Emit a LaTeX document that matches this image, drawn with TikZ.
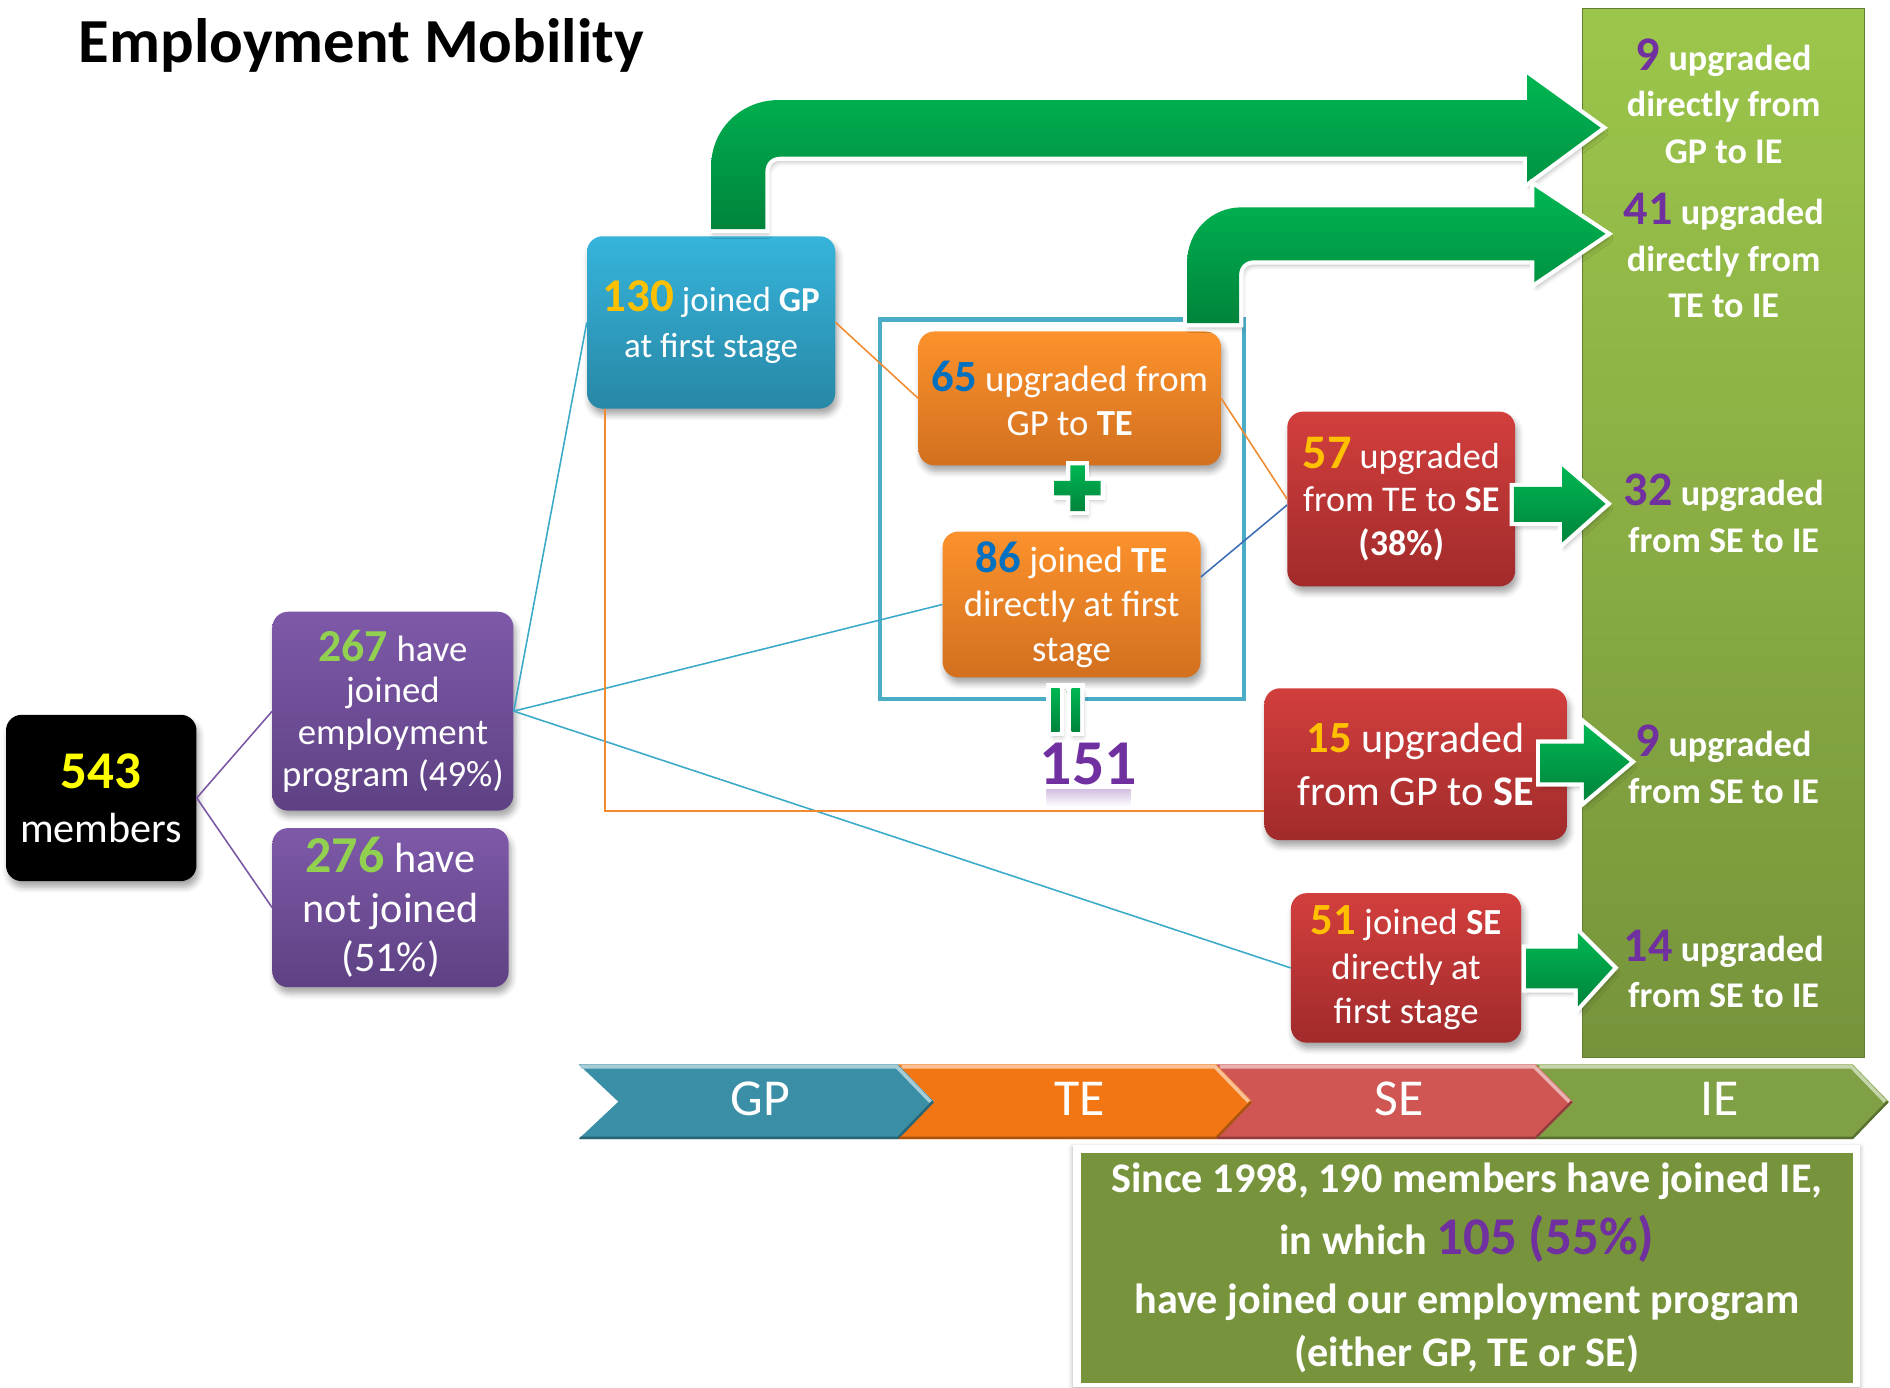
\documentclass[tikz,border=0pt]{standalone}
\usepackage{fontspec}
\setmainfont{Carlito}
\usetikzlibrary{shadows.blur,calc}
\definecolor{cYel}{HTML}{FFFF00}
\definecolor{cGold}{HTML}{FFC000}
\definecolor{cBlue}{HTML}{0070C0}
\definecolor{cLime}{HTML}{92D050}
\definecolor{cPur}{HTML}{7030A0}
\definecolor{purT}{HTML}{7E59A9}
\definecolor{purB}{HTML}{5E4183}
\definecolor{tealT}{HTML}{36B4DB}
\definecolor{tealB}{HTML}{2887A6}
\definecolor{oraT}{HTML}{FC922C}
\definecolor{oraB}{HTML}{D2701F}
\definecolor{redT}{HTML}{D23F3D}
\definecolor{redB}{HTML}{A12A2B}
\definecolor{ieT}{HTML}{9CC64B}
\definecolor{ieB}{HTML}{76933B}
\definecolor{olive}{HTML}{77933C}
\definecolor{arrT}{HTML}{00B652}
\definecolor{arrB}{HTML}{00843C}
\definecolor{chGP}{HTML}{3A8FA7}
\definecolor{chTE}{HTML}{F27613}
\definecolor{chSE}{HTML}{CF5653}
\definecolor{chIE}{HTML}{80A045}
\definecolor{lnTeal}{HTML}{3AAAC8}
\definecolor{lnOra}{HTML}{F28A30}
\definecolor{lnPur}{HTML}{7A56A4}
\definecolor{lnBlue}{HTML}{3D6EB5}
\definecolor{frTeal}{HTML}{4BACC6}
\newcommand\fsz[2]{\fontsize{#1}{#2}\selectfont}
\newcommand\Nb[3]{{\fontsize{#2}{#2}\selectfont\bfseries\color{#1}#3}}
\tikzset{
  box/.style={rounded corners=13pt, inner sep=0pt, align=center, text=white,
    blur shadow={shadow xshift=2pt, shadow yshift=-5pt, shadow blur radius=5pt, shadow opacity=35}},
  pbox/.style={box, top color=purT, bottom color=purB},
  tbox/.style={box, top color=tealT, bottom color=tealB},
  obox/.style={box, top color=oraT, bottom color=oraB},
  rbox/.style={box, top color=redT, bottom color=redB},
  ietxt/.style={text=white, align=center, font=\bfseries\fsz{30}{38.5}, inner sep=0pt},
  garrow/.style={blur shadow={shadow xshift=2pt, shadow yshift=-4pt, shadow blur radius=4pt, shadow opacity=30},
    preaction={draw=white, line width=7pt, line join=miter},
    top color=arrT, bottom color=arrB},
  conn/.style={line width=1.3pt},
  chlabel/.style={text=white, font=\fsz{43}{43}, inner sep=0pt},
}
\begin{document}
\begin{tikzpicture}[x=1pt,y=-1pt]
\useasboundingbox (0,0) rectangle (1568,1151);

% title
\node[anchor=base west, font=\bfseries\fsz{52}{60}] (title) at (62,52) {Employment Mobility};

% IE column
\node[top color=ieT, bottom color=ieB, draw=ieB!85!black, line width=1pt,
  minimum width=234pt, minimum height=870pt, inner sep=0pt] (iecol) at (1430,442) {};

% frame
\node[draw=frTeal, line width=3.5pt, minimum width=302pt, minimum height=315pt, inner sep=0pt] (frame) at (881,422.5) {};

% boxes
\node[box, fill=black, minimum width=158pt, minimum height=138pt, font=\fsz{35}{45}] (b543) at (84,662)
  {\Nb{cYel}{44}{543}\\members};
\node[pbox, minimum width=200pt, minimum height=165pt, font=\fsz{30.5}{34.5}] (b267) at (326,590)
  {\Nb{cLime}{38}{267} have\\joined\\employment\\program (49\%)};
\node[pbox, minimum width=196pt, minimum height=132pt, font=\fsz{35}{41}] (b276) at (324,753)
  {\Nb{cLime}{43}{276} have\\not joined\\(51\%)};
\node[tbox, minimum width=206pt, minimum height=143pt, font=\fsz{29}{38}] (b130) at (590,267.5)
  {\Nb{cGold}{39}{130} joined \textbf{GP}\\at first stage};
\node[obox, minimum width=251pt, minimum height=111pt, font=\fsz{30.5}{36}] (b65) at (887.5,330.5)
  {\Nb{cBlue}{37}{65} upgraded from\\GP to \textbf{TE}};
\node[obox, minimum width=214pt, minimum height=121pt, font=\fsz{30.5}{37}] (b86) at (889,501.5)
  {\Nb{cBlue}{37}{86} joined \textbf{TE}\\directly at first\\stage};
\node[rbox, minimum width=189pt, minimum height=145pt, font=\fsz{30}{36}] (b57) at (1162.5,414)
  {\Nb{cGold}{40}{57} upgraded\\from TE to \textbf{SE}\\\textbf{(38\%)}};
\node[rbox, minimum width=251pt, minimum height=126pt, font=\fsz{35}{44}] (b15) at (1174.5,634)
  {\Nb{cGold}{37}{15} upgraded\\from GP to \textbf{SE}};
\node[rbox, minimum width=191pt, minimum height=124pt, font=\fsz{30.5}{37}] (b51) at (1166.5,803)
  {\Nb{cGold}{37}{51} joined \textbf{SE}\\directly at\\first stage};

% connectors
\draw[conn, lnPur] (b543.east) -- (b267.west);
\draw[conn, lnPur] (b543.east) -- (b276.west);
\draw[conn, lnTeal] (b267.east) -- (b130.west);
\draw[conn, lnTeal] (b267.east) -- (b86.west);
\draw[conn, lnTeal] (b267.east) -- (b51.west);
\draw[conn, lnOra] (b130.east) -- (b65.west);
\draw[conn, lnOra] (b65.east) -- (b57.west);
\draw[conn, lnBlue] (b86.12) -- (b57.183);
\draw[conn, lnOra] ([xshift=15pt]b130.south west) |- ([yshift=-39pt]b15.west);

% big bent arrows
\path[garrow] (590,190) -- (590,138) .. controls (590,107) and (615,83) .. (646,83) -- (1267,83) -- (1267,62)
  -- (1328,106) -- (1267,151) -- (1267,130) -- (647,130) .. controls (640,130) and (635,135) .. (635,142)
  -- (635,190) -- cycle;
\path[garrow] (985,268) -- (985,217) .. controls (985,192) and (1005,172) .. (1030,172) -- (1273,172) -- (1273,155)
  -- (1332,194) -- (1273,234) -- (1273,216) -- (1040,216) .. controls (1033,216) and (1028,221) .. (1028,228)
  -- (1028,268) -- cycle;

% small arrows
\path[garrow] (1256,404) -- (1296,404) -- (1296,387) -- (1332,418) -- (1296,450) -- (1296,433) -- (1256,433) -- cycle;
\path[garrow] (1278,617) -- (1314,617) -- (1314,601) -- (1352,632) -- (1314,664) -- (1314,649) -- (1278,649) -- cycle;
\path[garrow] (1266,787) -- (1309,787) -- (1309,774) -- (1338,803) -- (1309,835) -- (1309,820) -- (1266,820) -- cycle;

% plus and equals
\path[garrow] (888,386) -- (900,386) -- (900,399) -- (913,399) -- (913,411) -- (900,411) -- (900,424) -- (888,424)
  -- (888,411) -- (875,411) -- (875,399) -- (888,399) -- cycle;
\fill[white] (868,567) rectangle (900,611);
\path[garrow] (872,571) rectangle (879,607);
\path[garrow] (889,571) rectangle (896,607);

\shade[top color=cPur!30!white, bottom color=white] (868,655) rectangle (938,669);
\node[font=\bfseries\fsz{53}{53}, text=cPur, inner sep=0pt] (n151) at (903,634) {151};

% IE texts
\node[ietxt] (t1) at (1430,84) {\Nb{cPur}{40}{9} upgraded\\directly from\\GP to IE};
\node[ietxt] (t2) at (1430,212) {\Nb{cPur}{40}{41} upgraded\\directly from\\TE to IE};
\node[ietxt] (t3) at (1430,426) {\Nb{cPur}{40}{32} upgraded\\from SE to IE};
\node[ietxt] (t4) at (1430,634) {\Nb{cPur}{40}{9} upgraded\\from SE to IE};
\node[ietxt] (t5) at (1430,804) {\Nb{cPur}{40}{14} upgraded\\from SE to IE};

% chevrons
\fill[chGP] (480,883) -- (745,883) -- (775,914) -- (745,945) -- (480,945) -- (513,914) -- cycle;
\fill[chTE] (745,883) -- (1009,883) -- (1039,914) -- (1009,945) -- (745,945) -- (775,914) -- cycle;
\fill[chSE] (1009,883) -- (1274,883) -- (1305,914) -- (1274,945) -- (1009,945) -- (1039,914) -- cycle;
\fill[chIE] (1274,883) -- (1537,883) -- (1567,914) -- (1537,945) -- (1274,945) -- (1305,914) -- cycle;
\draw[chGP!45!white, line width=3pt] (482,885) -- (744,885) -- (772,914);
\draw[chTE!45!white, line width=3pt] (748,885) -- (1008,885) -- (1036,914);
\draw[chSE!45!white, line width=3pt] (1012,885) -- (1273,885) -- (1302,914);
\draw[chIE!45!white, line width=3pt] (1277,885) -- (1536,885) -- (1564,914);
\draw[chGP!70!black, line width=2pt] (481,944) -- (745,944) -- (774,914);
\draw[chTE!70!black, line width=2pt] (746,944) -- (1009,944) -- (1038,914);
\draw[chSE!70!black, line width=2pt] (1010,944) -- (1274,944) -- (1304,914);
\draw[chIE!70!black, line width=2pt] (1275,944) -- (1537,944) -- (1566,914);
\node[chlabel] (lGP) at (631,912) {GP};
\node[chlabel] (lTE) at (896,912) {TE};
\node[chlabel] (lSE) at (1161,912) {SE};
\node[chlabel] (lIE) at (1427,912) {IE};

% note box
\node[fill=white, minimum width=653pt, minimum height=201pt, inner sep=0pt,
  blur shadow={shadow xshift=0pt, shadow yshift=-2pt, shadow blur radius=4pt, shadow opacity=30}] (noteframe) at (1216.5,1050.5) {};
\node[fill=olive, minimum width=640pt, minimum height=191pt, inner sep=0pt, align=center, text=white,
  font=\bfseries\fsz{35}{44}] (note) at (1217,1052)
  {Since 1998, 190 members have joined IE,\\[7pt]in which \Nb{cPur}{44}{105 (55\%)}\\[5pt]have joined our employment program\\(either GP, TE or SE)};
\end{tikzpicture}
\end{document}
